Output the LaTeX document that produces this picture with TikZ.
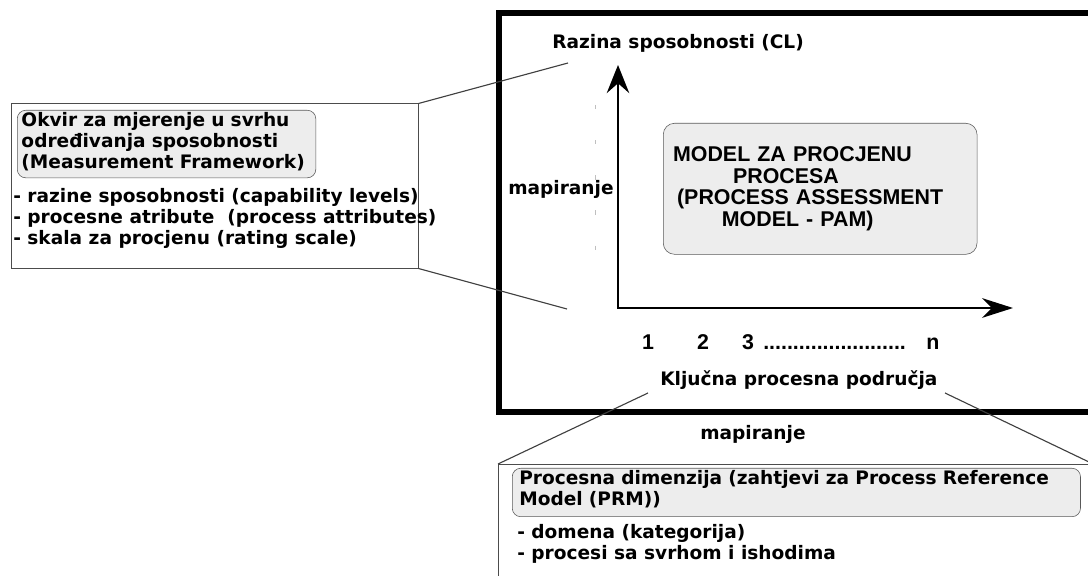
\documentclass[tikz,border=0pt]{standalone}
\usepackage{fontspec}
\setmainfont{DejaVu Sans}
\newfontfamily\arialfont{Liberation Sans}
\usetikzlibrary{arrows.meta}

\begin{document}
\begin{tikzpicture}[x=0.025cm, y=-0.025cm,
    txt/.style={font=\bfseries\fontsize{13.2}{15}\selectfont, inner sep=0pt},
    arialtxt/.style={font=\arialfont\bfseries\fontsize{15.2}{15.4}\selectfont, inner sep=0pt},
    titlebox/.style={txt, draw=black!65, fill=black!7, rounded corners=6pt,
        inner xsep=3pt, inner ysep=1.5pt, align=left, anchor=north west},
    outerbox/.style={draw=black!70, line width=0.7pt, inner sep=0pt},
    link/.style={draw=black!75, line width=0.8pt}]
%\draw [help lines, step=50] (0,0) grid (1088,576);
    \useasboundingbox (0,0) rectangle (1088,576);
    \clip (0,0) rectangle (1088,576);
    % okvir za mjerenje
    \node[outerbox, minimum width=10.15cm, minimum height=4.1cm] (mfbox) at (215,186) {};
    \node[titlebox, text width=7.25cm] (mftitle) at (17,110)
        {Okvir za mjerenje u svrhu\\ određivanja sposobnosti\\
         (Measurement Framework)\rule[-5pt]{0pt}{0pt}};
    \node[txt, align=left, anchor=north west] (mflist) at (13,188)
        {- razine sposobnosti (capability levels)\\
         - procesne atribute\ \ (process attributes)\\
         - skala za procjenu (rating scale)};
    % glavni okvir
    \draw[line width=4.3pt] (499,13) rectangle (1110,412);
    \coordinate (clEnd) at (568,63);
    \coordinate (orgEnd) at (567,309);
    \draw[link] (mfbox.north east) -- (clEnd);
    \draw[link] (mfbox.south east) -- (orgEnd);
    \draw[black!25, line width=0.6pt, dash pattern=on 3pt off 22pt] (595,105) -- (595,256);
    % osi
    \coordinate (org) at (618,308);
    \coordinate (ytip) at (618,65);
    \coordinate (xtip) at (1013,308);
    \draw[line width=1.5pt, {Stealth[length=20pt, width=16pt, inset=7pt]}-{Stealth[length=22pt, width=14pt, inset=7pt]}]
        (ytip) -- (org) -- (xtip);
    \node[txt, anchor=base west] (cl) at (552,49) {Razina sposobnosti (CL)};
    \node[txt, anchor=base west] (mapL) at (508,195) {mapiranje};
    \node[arialtxt, draw=black!65, fill=black!7, rounded corners=8pt, anchor=north west,
          inner xsep=7pt, text width=7.35cm, minimum height=3.275cm, align=left] (pam) at (663,123)
        {MODEL ZA PROCJENU\\
         \hspace*{1.5cm}PROCESA\\
         \hspace*{0.1cm}(PROCESS ASSESSMENT\\
         \hspace*{1.22cm}MODEL - PAM)};
    \node[arialtxt, anchor=base] (n1) at (648,350) {1};
    \node[arialtxt, anchor=base] (n2) at (703,350) {2};
    \node[arialtxt, anchor=base] (n3) at (748,350) {3};
    \node[arialtxt, anchor=base west] (dots) at (763,350) {........................};
    \node[arialtxt, anchor=base] (nn) at (933,350) {n};
    \node[txt, anchor=base west] (kpp) at (660,386) {Ključna procesna područja};
    \coordinate (kppL) at (648,393);
    \coordinate (kppR) at (945,393);
    \node[txt, anchor=base west] (mapB) at (700,440) {mapiranje};
    % procesna dimenzija
    \node[outerbox, anchor=north west, minimum width=14.85cm, minimum height=4cm] (prmbox) at (498,464) {};
    \draw[link] (kppL) -- (prmbox.north west);
    \draw[link] (kppR) -- (prmbox.north east);
    \node[titlebox, text width=13.85cm, inner xsep=5pt] (prmtitle) at (512,468)
        {Procesna dimenzija (zahtjevi za Process Reference\\
         Model (PRM))\rule[-6.4pt]{0pt}{0pt}};
    \node[txt, align=left, anchor=north west] (prmlist) at (517,524)
        {- domena (kategorija)\\
         - procesi sa svrhom i ishodima};
\end{tikzpicture}
\end{document}
